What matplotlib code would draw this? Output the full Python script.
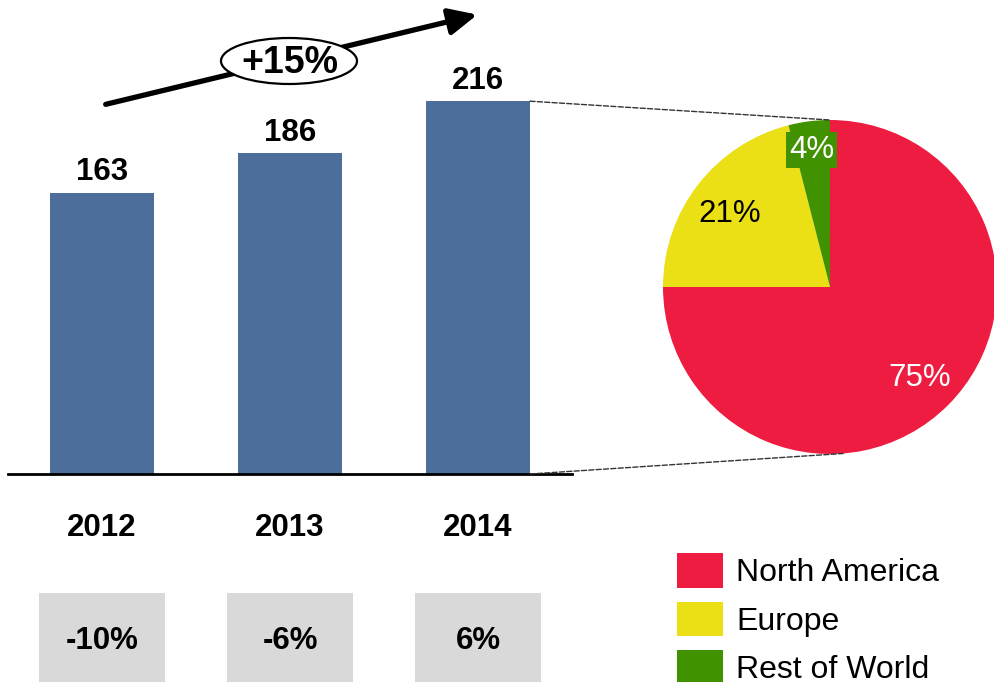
import numpy as np
import matplotlib
matplotlib.use("Agg")
import matplotlib.pyplot as plt
from matplotlib.patches import Ellipse, ConnectionPatch, FancyArrowPatch

plt.rcParams['font.family'] = ['Liberation Sans', 'DejaVu Sans']

# data
years = ['2012', '2013', '2014']
revenue = [163, 186, 216]
growth = ['-10%', '-6%', '6%']
cagr = '+15%'
regions = ['North America', 'Europe', 'Rest of World']
shares = [75, 21, 4]

bar_color = '#4D6D9A'
pie_colors = ['#ED1C40', '#EBDF16', '#419200']

W, H = 994, 682
fig = plt.figure(figsize=(W / 100, H / 100), dpi=100)

# bar axes: baseline at y=474 px, x from 8 to 572 px
ax = fig.add_axes([8 / W, (H - 474) / H, 564 / W, 250 * 1.726 / H])
x = np.arange(len(years))
ax.bar(x, revenue, width=0.553, color=bar_color, zorder=2)
ax.set_xlim(-0.5, 2.5)
ax.set_ylim(0, 250)
for s in ['top', 'right', 'left']:
    ax.spines[s].set_visible(False)
ax.spines['bottom'].set_linewidth(2)
ax.set_xticks([])
ax.set_yticks([])
ax.patch.set_alpha(0)

fs = 22.5
for xi, v in zip(x, revenue):
    ax.text(xi, v + 3, str(v), ha='center', va='bottom', fontsize=fs, fontweight='bold')

for xi, yr in zip(x, years):
    ax.text(xi, -31, yr, ha='center', va='center', fontsize=fs, fontweight='bold', clip_on=False)

# growth boxes
ax.bar(x, [-52] * 3, bottom=-69, width=0.675, color='#D9D9D9', clip_on=False)
for xi, g in zip(x, growth):
    ax.text(xi, -96.5, g, ha='center', va='center', fontsize=fs, fontweight='bold', clip_on=False)

# pie axes: center (830, 287), radius 167
r = 167
pax = fig.add_axes([(830 - r) / W, (H - 287 - r) / H, 2 * r / W, 2 * r / H])
wedges, texts, autotexts = pax.pie(shares, colors=pie_colors, startangle=90, counterclock=False,
                                   autopct='%d%%', pctdistance=0.68,
                                   textprops=dict(fontsize=fs))
pax.set_xlim(-1, 1)
pax.set_ylim(-1, 1)
pax.set_aspect('equal')
autotexts[0].set_position((0.54, -0.545))
autotexts[0].set_color('white')
autotexts[1].set_position((-0.6, 0.44))
autotexts[1].set_color('black')
autotexts[2].set_position((-0.11, 0.82))
autotexts[2].set_color('white')
autotexts[2].set_bbox(dict(facecolor=pie_colors[2], edgecolor='none', pad=2))

# dashed connectors
bar_right = x[-1] + 0.553 / 2
con1 = ConnectionPatch(xyA=(bar_right, revenue[-1]), coordsA=ax.transData,
                       xyB=(0, 1), coordsB=pax.transData,
                       linestyle='--', color='#333333', linewidth=1)
ang = np.deg2rad(-85.5)
con2 = ConnectionPatch(xyA=(bar_right, 0), coordsA=ax.transData,
                       xyB=(np.cos(ang), np.sin(ang)), coordsB=pax.transData,
                       linestyle='--', color='#333333', linewidth=1)
fig.add_artist(con1)
fig.add_artist(con2)

# growth arrow with ellipse
arrow = FancyArrowPatch((103 / W, 1 - 105 / H), (480 / W, 1 - 14 / H),
                        transform=fig.transFigure, arrowstyle='-|>,head_length=17,head_width=8',
                        linewidth=3.8, color='black', mutation_scale=1)
fig.add_artist(arrow)
ell = Ellipse((289 / W, 1 - 61 / H), 136 / W, 46 / H, transform=fig.transFigure,
              facecolor='white', edgecolor='black', linewidth=1.6, zorder=5)
fig.add_artist(ell)
fig.text(290 / W, 1 - 63 / H, cagr, ha='center', va='center', fontsize=27,
         fontweight='bold', zorder=6)

# legend
fig.legend(wedges, regions, loc='upper left', bbox_to_anchor=(677 / W, 1 - 553 / H),
           frameon=False, fontsize=23, handlelength=1.45, handleheight=1.3,
           handletextpad=0.4, labelspacing=0.42, borderaxespad=0, borderpad=0)

fig.savefig('out.png', dpi=100)
